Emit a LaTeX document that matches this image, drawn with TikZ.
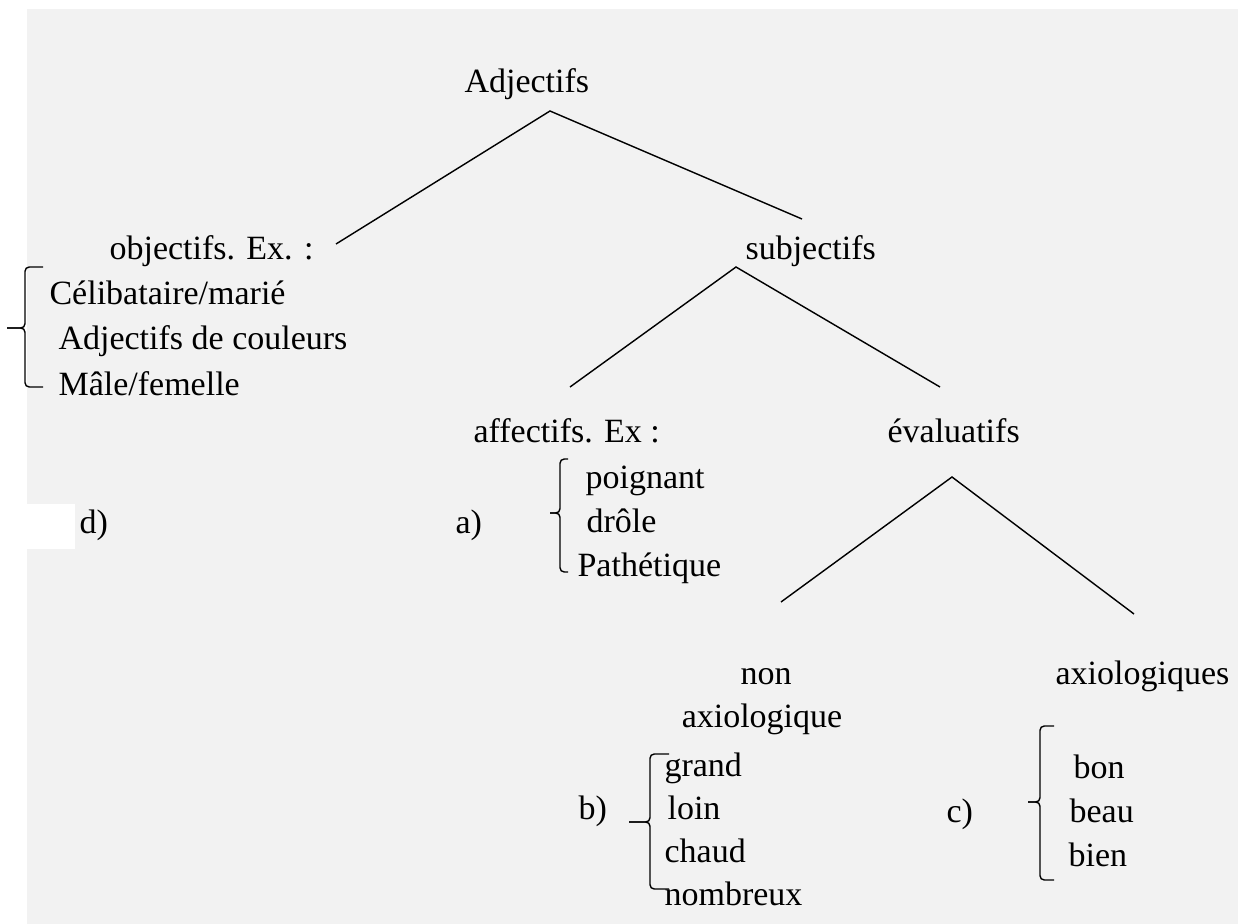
\documentclass[tikz,border=0pt]{standalone}
\usepackage{fontspec}
\setmainfont{Liberation Serif}

\definecolor{pagegray}{HTML}{F2F2F2}

\tikzset{
  word/.style={anchor=base west, inner sep=0pt, font=\fontsize{12}{14}\selectfont},
  midword/.style={word, anchor=base},
  branch/.style={line width=0.5pt},
  listbrace/.style={line width=0.5pt, rounded corners=1.5pt},
}

% x, top, middle, bottom, tick end, hook end
\newcommand{\wordbrace}[6]{
  \draw[listbrace] (#6,#2) -- (#1,#2) -- (#1,#3) -- (#5,#3);
  \draw[listbrace] (#5,#3) -- (#1,#3) -- (#1,#4) -- (#6,#4);
}

\begin{document}
\begin{tikzpicture}[x=0.353pt, y=-0.353pt]
  \useasboundingbox (0,0) rectangle (1238,924);
  \fill[pagegray] (27,9) rectangle (1238,924);
  \fill[white] (27,504) rectangle (75,549);

  \node[word] (adj) at (464,93) {Adjectifs};
  \node[word] (obj) at (109,260) {objectifs. Ex. :};
  \node[word] (subj) at (745,260) {subjectifs};
  \node[word] (aff) at (473,443) {affectifs. Ex :};
  \node[word] (eval) at (887,443) {évaluatifs};
  \node[midword] (nonax) at (766,684) {non};
  \node[midword] (nonax2) at (762,727) {axiologique};
  \node[word] (ax) at (1055,684) {axiologiques};

  \node[word] (lbl-d) at (79,534) {d)};
  \node[word] (lbl-a) at (455,533) {a)};
  \node[word] (lbl-b) at (578,819) {b)};
  \node[word] (lbl-c) at (946,822) {c)};

  \coordinate (adj-fork) at (550,111);
  \coordinate (obj-end) at (336,244);
  \coordinate (subj-end) at (802,219);
  \coordinate (subj-fork) at (736,267);
  \coordinate (aff-end) at (570,387);
  \coordinate (eval-end) at (940,387);
  \coordinate (eval-fork) at (952,477);
  \coordinate (nonax-end) at (781,602);
  \coordinate (ax-end) at (1134,614);

  \draw[branch] (obj-end) -- (adj-fork) -- (subj-end);
  \draw[branch] (aff-end) -- (subj-fork) -- (eval-end);
  \draw[branch] (nonax-end) -- (eval-fork) -- (ax-end);

  \foreach \w/\x/\y [count=\i] in {{Célibataire/marié}/49/305, Adjectifs de couleurs/58/350, {Mâle/femelle}/58/396}
    \node[word] (obj-\i) at (\x,\y) {\w};
  \foreach \w/\x/\y [count=\i] in {poignant/585/488, drôle/586/532, Pathétique/577/576}
    \node[word] (aff-\i) at (\x,\y) {\w};
  \foreach \w/\x/\y [count=\i] in {grand/664/776, loin/667/819, chaud/664/862, nombreux/664/905}
    \node[word] (nonax-\i) at (\x,\y) {\w};
  \foreach \w/\x/\y [count=\i] in {bon/1073/778, beau/1069/822, bien/1068/866}
    \node[word] (ax-\i) at (\x,\y) {\w};

  \wordbrace{25}{267}{328}{387}{7}{43}
  \wordbrace{560}{459}{513}{572}{550}{568}
  \wordbrace{650}{754}{822}{889}{629}{669}
  \wordbrace{1040}{726}{802}{880}{1028}{1054}
\end{tikzpicture}
\end{document}
